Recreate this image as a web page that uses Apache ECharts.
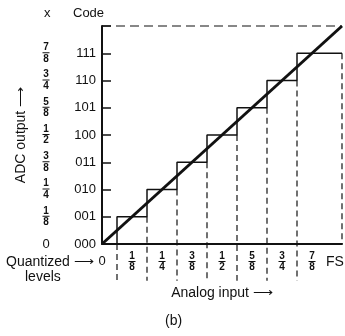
<!DOCTYPE html>
<html>
<head>
<meta charset="utf-8">
<script src="https://cdn.jsdelivr.net/npm/echarts@6/dist/echarts.min.js"></script>
<style>
  html, body { margin: 0; padding: 0; background: #fff; }
  #chart { width: 345px; height: 336px; }
</style>
</head>
<body>
<div id="chart"></div>
<script>
// quantizer staircase: edges along the analog input (fraction of FS) and output level
const stepEdges = [0, 1 / 16, 3 / 16, 5 / 16, 7 / 16, 9 / 16, 11 / 16, 13 / 16, 1];
const stepLevels = [0, 1, 2, 3, 4, 5, 6, 7, 7];
// decision points (dashed verticals) and the level they start from
const decisionX = [1 / 16, 3 / 16, 5 / 16, 7 / 16, 9 / 16, 11 / 16, 13 / 16];
const decisionFrom = [0, 1, 2, 3, 4, 5, 6];
// ideal transfer line
const idealX = [0, 1];
const idealY = [0, 8];
// tick labels
const codeLabels = ['000', '001', '010', '011', '100', '101', '110', '111'];
const yFracNum = ['0', '1', '1', '3', '1', '5', '3', '7'];
const yFracDen = ['', '8', '4', '8', '2', '8', '4', '8'];
const xFracNum = ['0', '1', '1', '3', '1', '5', '3', '7'];
const xFracDen = ['', '8', '4', '8', '2', '8', '4', '8'];

const font = 'Liberation Sans';
const ink = '#111';
const belowAxis = -1.35;

const fracRich = {
  n: { fontSize: 10, lineHeight: 8, fontWeight: 'bold', color: ink, fontFamily: font, align: 'center' },
  b: { width: 7, height: 1, lineHeight: 3, backgroundColor: ink, align: 'center' },
  d: { fontSize: 10, lineHeight: 9, fontWeight: 'bold', color: ink, fontFamily: font, align: 'center' },
  z: { fontSize: 13, lineHeight: 19, color: ink, fontFamily: font, align: 'center' }
};

const fraction = (num, den) => den === '' ? '{z|' + num + '}' : '{n|' + num + '}\n{b| }\n{d|' + den + '}';

const stairData = stepEdges.map((x, i) => [x, stepLevels[i]]);
const dashedData = [];
decisionX.forEach((x, i) => {
  dashedData.push([x, decisionFrom[i]], [x, belowAxis], '-');
});
dashedData.push([1, 7], [1, 0]);

const chart = echarts.init(document.getElementById('chart'));
chart.setOption({
  animation: false,
  backgroundColor: '#fff',
  grid: { left: 102, right: 2, top: 26, bottom: 92 },
  xAxis: {
    type: 'value', min: 0, max: 1, interval: 0.125,
    axisLine: { lineStyle: { color: ink, width: 2 } },
    axisTick: { show: false },
    splitLine: { show: false },
    axisLabel: {
      margin: 8,
      rich: fracRich,
      formatter: (v) => {
        const i = Math.round(v * 8);
        return i < 8 ? fraction(xFracNum[i], xFracDen[i]) : '';
      }
    },
    name: 'Analog input ⟶',
    nameLocation: 'middle',
    nameGap: 42,
    nameTextStyle: { fontSize: 14, color: ink, fontFamily: font }
  },
  yAxis: [
    {
      type: 'value', min: 0, max: 8, interval: 1,
      axisLine: { show: true, lineStyle: { color: ink, width: 2 } },
      axisTick: { show: true, inside: true, length: 9, lineStyle: { color: ink, width: 1.5 } },
      splitLine: { show: false },
      axisLabel: {
        margin: 6, fontSize: 13, color: ink, fontFamily: font,
        formatter: (v) => codeLabels[v] || ''
      },
      name: 'ADC output ⟶',
      nameLocation: 'middle',
      nameGap: 74,
      nameTextStyle: { fontSize: 14, color: ink, fontFamily: font }
    },
    {
      type: 'value', min: 0, max: 8, interval: 1, position: 'left',
      axisLine: { show: false },
      axisTick: { show: false },
      splitLine: { show: false },
      axisLabel: {
        margin: 56, align: 'center', rich: fracRich,
        formatter: (v) => v < 8 ? fraction(yFracNum[v], yFracDen[v]) : ''
      }
    }
  ],
  graphic: [
    { type: 'text', left: 44, top: 7, style: { text: 'x', font: '13px ' + font, fill: ink } },
    { type: 'text', left: 73, top: 7, style: { text: 'Code', font: '13px ' + font, fill: ink } },
    { type: 'text', left: 6, top: 255, style: { text: 'Quantized ⟶', font: '14px ' + font, fill: ink } },
    { type: 'text', left: 25, top: 270, style: { text: 'levels', font: '14px ' + font, fill: ink } },
    { type: 'text', left: 326, top: 255, style: { text: 'FS', font: '14px ' + font, fill: ink } },
    { type: 'text', left: 165, top: 314, style: { text: '(b)', font: '14px ' + font, fill: ink } }
  ],
  series: [
    {
      type: 'line', clip: false, symbol: 'none', silent: true,
      data: dashedData,
      lineStyle: { color: ink, width: 1.2, type: [6, 4] }
    },
    {
      type: 'line', clip: false, symbol: 'none', silent: true,
      data: [[0, 8], [1, 8]],
      lineStyle: { color: ink, width: 1.2, type: [9, 5] }
    },
    {
      type: 'line', step: 'end', symbol: 'none', silent: true,
      data: stairData,
      lineStyle: { color: ink, width: 1.5 }
    },
    {
      type: 'line', symbol: 'none', silent: true, clip: false,
      data: idealX.map((x, i) => [x, idealY[i]]),
      lineStyle: { color: ink, width: 3 }
    }
  ]
});
</script>
</body>
</html>
